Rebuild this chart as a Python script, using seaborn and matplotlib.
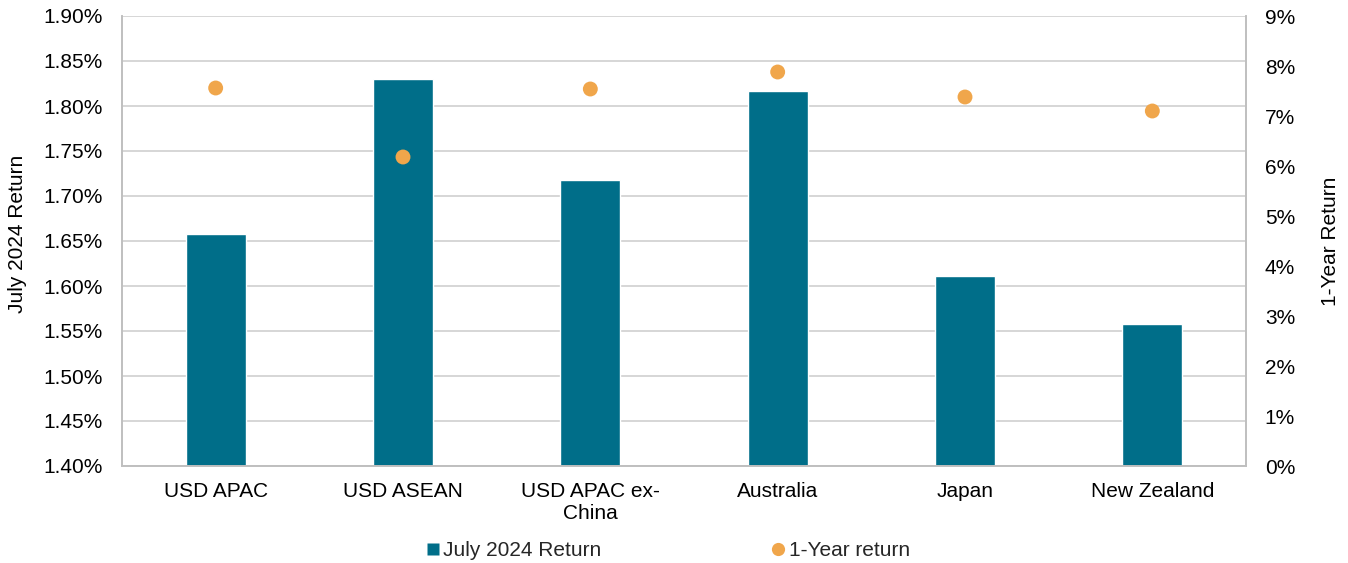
import matplotlib
matplotlib.use("Agg")
import matplotlib.pyplot as plt
import matplotlib.ticker as mticker
from matplotlib.lines import Line2D
import seaborn as sns
import pandas as pd

categories = ["USD APAC", "USD ASEAN", "USD APAC ex-\nChina", "Australia", "Japan", "New Zealand"]
july_2024_return = [1.658, 1.830, 1.718, 1.817, 1.611, 1.558]
one_year_return = [7.56, 6.18, 7.54, 7.88, 7.38, 7.10]

df = pd.DataFrame({"category": categories,
                   "july": july_2024_return,
                   "year": one_year_return})

sns.set_theme(style="white")
plt.rcParams["font.family"] = ["Liberation Sans", "DejaVu Sans"]

bar_color = "#006e89"
dot_color = "#f0a64b"
grid_color = "#d0d0d0"
spine_color = "#bfbfbf"
text_color = "#000000"
fs = 15

fig = plt.figure(figsize=(13.48, 5.63), dpi=100)
ax = fig.add_axes([122 / 1348, 1 - 466 / 563, 1124 / 1348, 450 / 563])

sns.barplot(data=df, x="category", y="july", color=bar_color, width=0.32,
            saturation=1, ax=ax, zorder=2)
ax.set_ylim(1.40, 1.90)
ax.yaxis.set_major_locator(mticker.MultipleLocator(0.05))
ax.yaxis.set_major_formatter(mticker.FuncFormatter(lambda v, _: f"{v:.2f}%"))
ax.set_xlim(-0.5, len(categories) - 0.5)
ax.grid(axis="y", color=grid_color, linewidth=1.2, zorder=0)
ax.set_axisbelow(True)
ax.set_xlabel("")
ax.set_ylabel("July 2024 Return", fontsize=fs, color=text_color)
ax.yaxis.set_label_coords(-0.0845, 0.515)
ax.tick_params(axis="y", labelsize=fs, colors=text_color, length=0, pad=14)
ax.tick_params(axis="x", labelsize=fs, colors=text_color, length=0, pad=11.5)
for side in ["left", "right", "bottom"]:
    ax.spines[side].set_color(spine_color)
    ax.spines[side].set_linewidth(1.2)
ax.spines["top"].set_visible(False)

ax2 = ax.twinx()
sns.scatterplot(data=df, x="category", y="year", color=dot_color, s=115,
                edgecolor="none", ax=ax2, zorder=3, legend=False)
ax2.set_ylim(0, 9)
ax2.yaxis.set_major_locator(mticker.MultipleLocator(1))
ax2.yaxis.set_major_formatter(mticker.FuncFormatter(lambda v, _: f"{v:.0f}%"))
ax2.set_ylabel("1-Year Return", fontsize=fs, color=text_color)
ax2.yaxis.set_label_coords(1.0667, 0.5)
ax2.tick_params(axis="y", labelsize=fs, colors=text_color, length=0, pad=13.5)
ax2.set_xlim(-0.5, len(categories) - 0.5)
for side in ["left", "right", "bottom"]:
    ax2.spines[side].set_color(spine_color)
    ax2.spines[side].set_linewidth(1.2)
ax2.spines["top"].set_visible(False)

handles = [
    Line2D([0], [0], marker="s", linestyle="none", markersize=8.5,
           markerfacecolor=bar_color, markeredgecolor="none"),
    Line2D([0], [0], marker="o", linestyle="none", markersize=9.5,
           markerfacecolor=dot_color, markeredgecolor="none"),
]
fig.legend(handles, ["July 2024 Return", "1-Year return"], loc="center",
           bbox_to_anchor=(665 / 1348, 1 - 551 / 563), ncol=2, frameon=False,
           fontsize=fs, handletextpad=-0.1, columnspacing=7.9, handlelength=1.2)

fig.savefig("out.png", dpi=100)
